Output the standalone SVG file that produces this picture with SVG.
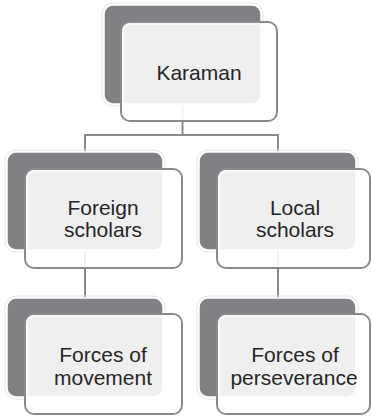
<svg xmlns="http://www.w3.org/2000/svg" width="372" height="417" viewBox="0 0 372 417">
<style>
.halo{fill:none;stroke:#e6e6e6;stroke-width:1}
.back{fill:#808184;stroke:#ffffff;stroke-width:1.5}
.front{fill:#ffffff;fill-opacity:0.87;stroke:#8a8a8a;stroke-width:2}
.inner{fill:none;stroke:#ffffff;stroke-width:1.5;stroke-opacity:0.8}
.conn{fill:none;stroke:#8a8a8a;stroke-width:2}
text{font-family:"Liberation Sans",Arial,sans-serif;font-size:21px;fill:#262626;text-anchor:middle}
</style>
<rect width="372" height="417" fill="#ffffff"/>
<g id="connectors">
<path class="conn" d="M182.5 60 V135 M85 135 H278 M85 134 V200 M278 134 V200 M85 200 V305 M278 200 V305"/>
</g>
<g id="karaman">
<rect class="halo" x="102" y="3" width="161" height="103" rx="11"/>
<rect class="back" x="104" y="5" width="157" height="99" rx="9"/>
<rect class="front" x="121" y="22" width="156" height="99" rx="9"/>
<rect class="inner" x="123" y="24" width="152" height="95" rx="7"/>
<text x="199" y="80">Karaman</text>
</g>
<g id="foreign">
<rect class="halo" x="5" y="150" width="160" height="102" rx="11"/>
<rect class="back" x="7" y="152" width="156" height="98" rx="9"/>
<rect class="front" x="25" y="169" width="157" height="99" rx="9"/>
<rect class="inner" x="27" y="171" width="153" height="95" rx="7"/>
<text x="103" y="215">Foreign</text>
<text x="103" y="237">scholars</text>
</g>
<g id="local">
<rect class="halo" x="197" y="150" width="161" height="102" rx="11"/>
<rect class="back" x="199" y="152" width="157" height="98" rx="9"/>
<rect class="front" x="217" y="169" width="153" height="99" rx="9"/>
<rect class="inner" x="219" y="171" width="149" height="95" rx="7"/>
<text x="295" y="215">Local</text>
<text x="295" y="237">scholars</text>
</g>
<g id="movement">
<rect class="halo" x="5" y="296" width="160" height="103" rx="11"/>
<rect class="back" x="7" y="298" width="156" height="99" rx="9"/>
<rect class="front" x="25" y="314" width="157" height="100" rx="9"/>
<rect class="inner" x="27" y="316" width="153" height="96" rx="7"/>
<text x="103" y="362">Forces of</text>
<text x="103" y="385">movement</text>
</g>
<g id="perseverance">
<rect class="halo" x="197" y="296" width="161" height="103" rx="11"/>
<rect class="back" x="199" y="298" width="157" height="99" rx="9"/>
<rect class="front" x="217" y="314" width="153" height="100" rx="9"/>
<rect class="inner" x="219" y="316" width="149" height="96" rx="7"/>
<text x="295" y="362">Forces of</text>
<text x="294" y="385">perseverance</text>
</g>
</svg>
